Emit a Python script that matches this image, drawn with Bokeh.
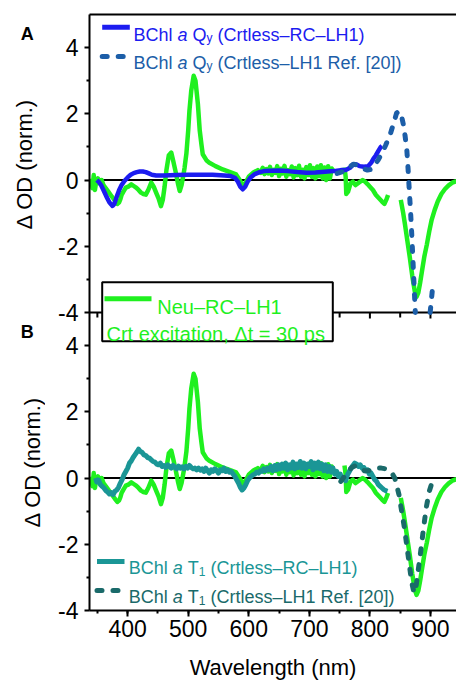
import math
from bokeh.plotting import figure
from bokeh.layouts import row
from bokeh.models import (Range1d, LinearAxis, FixedTicker, SingleIntervalTicker,
                          Span, Label)
from bokeh.core.properties import value
from bokeh.embed import file_html
from bokeh.resources import INLINE

NaN = float("nan")

# ---------------- data ----------------
# Neu-RC-LH1, Crt excitation, dt = 30 ps (drawn in both panels)
neu_wl = [340, 342, 344, 346, 348, 351, 354, 357, 360, 364, 368, 372, 376, 380, 383, 386, 388, 390,
          393, 397, 401, 406, 410, 414, 418, 422, 426, 430, 434, 439, 443, 447, 451, 455, 458, 461,
          464, 468, 472, 475, 479, 483, 486, 489, 492, 494, 497, 500, 502, 505, 509, 512, 516, 519,
          522, 524, 530, 535, 545, 557, 568, 579, 585, 590, 594, 600, 607, 615,
          620, 623, 626, 629, 632, 635, 638, 641, 644, 647, 650, 653, 656, 659, 662, 665, 668, 671,
          674, 677, 680, 683, 686, 689, 692, 695, 698, 701, 704, 707, 710, 713, 716, 719, 722, 725,
          728, 731, 734, 737, 739, NaN,
          758, 760, 761, 764, 768, 772, 776, 780, 784, 788, 792, 796, 800, 805, 810, 815, 820, 824,
          827, 830, NaN,
          851, 855, 858, 862, 866, 870, 874, 877, 880, 883, 886, 890, 894, 898, 902, 907, 912, 918,
          924, 930, 936, 943]
neu_od = [0.05, -0.25, 0.15, -0.3, -0.05, 0.05, -0.1, 0.0, -0.15, -0.25, -0.35, -0.45, -0.55, -0.65, -0.72, -0.67, -0.58, -0.45,
          -0.35, -0.23, -0.2, -0.13, -0.18, -0.23, -0.3, -0.38, -0.42, -0.44, -0.3, -0.08, -0.2, -0.38, -0.55, -0.79, -0.6, -0.2,
          0.3, 0.75, 0.83, 0.6, 0.27, -0.1, -0.33, -0.15, 0.15, 0.37, 0.8, 1.5, 2.09, 2.7, 3.15, 3.0, 2.29, 1.5,
          1.05, 0.78, 0.6, 0.52, 0.42, 0.32, 0.25, 0.17, 0.0, -0.18, -0.1, 0.1, 0.22, 0.3,
          0.22, 0.37, 0.18, 0.33, 0.2, 0.4, 0.15, 0.31, 0.22, 0.42, 0.12, 0.34, 0.2, 0.43, 0.1, 0.3, 0.18, 0.41,
          0.08, 0.36, 0.15, 0.43, 0.1, 0.31, 0.05, 0.39, 0.15, 0.45, 0.1, 0.36, 0.05, 0.41, 0.12, 0.45, 0.05, 0.38,
          0.0, 0.42, 0.05, 0.35, 0.3, NaN,
          0.38, 0.1, -0.42, -0.35, -0.1, -0.05, -0.15, -0.1, -0.05, 0.0, -0.05, -0.12, -0.2, -0.3, -0.45, -0.55, -0.65, -0.72,
          -0.6, -0.45, NaN,
          -0.6, -1.0, -1.35, -1.85, -2.35, -2.9, -3.35, -3.53, -3.4, -3.1, -2.75, -2.3, -1.95, -1.55, -1.2, -0.9, -0.65, -0.42,
          -0.27, -0.16, -0.08, -0.03]

# BChl a Qy (Crtless-RC-LH1)  - panel A
qy_rc_wl = [349, 352, 356, 360, 365, 370, 375, 378, 382, 386, 390, 395, 400, 405, 410, 415, 420, 425,
            430, 435, 440, 447, 460, 480, 500, 520, 540, 560, 570, 577, 582, 586, 590, 594, 598, 603,
            610, 618, 625, 635, 650, 665, 680, 695, 710, 725, 740, 752, 760, 767, 773, 778, 783, 790,
            797, 802, 806, 810, 814, 818, 820]
qy_rc_od = [0.0, -0.05, -0.15, -0.3, -0.5, -0.68, -0.78, -0.72, -0.5, -0.3, -0.15, -0.02, 0.08, 0.16, 0.21, 0.24, 0.26, 0.26,
            0.24, 0.2, 0.16, 0.14, 0.14, 0.15, 0.16, 0.16, 0.16, 0.14, 0.12, 0.07, -0.05, -0.2, -0.28, -0.2, -0.05, 0.08,
            0.18, 0.24, 0.27, 0.28, 0.29, 0.27, 0.24, 0.22, 0.23, 0.25, 0.27, 0.3, 0.3, 0.37, 0.48, 0.47, 0.42, 0.4,
            0.42, 0.52, 0.65, 0.75, 0.88, 1.0, 1.03]

# BChl a Qy (Crtless-LH1, Ref. [20])  - panel A (minimum runs off the axis)
qy_ref_wl = [746, 755, 765, 773, 780, 788, 796, 802, 808, 814, 820, 826, 833, 839, 844, 848, 852, 855,
             858, 861, 863, 865, 867, 869, 871, 873, 875, NaN, 899.5, 903]
qy_ref_od = [0.2, 0.25, 0.38, 0.48, 0.45, 0.35, 0.3, 0.32, 0.45, 0.62, 0.82, 1.05, 1.35, 1.7, 2.02, 2.08, 1.95, 1.7,
             1.35, 0.9, 0.35, -0.3, -0.9, -1.6, -2.4, -3.2, -4.0, NaN, -4.0, -3.35]

# BChl a T1 (Crtless-RC-LH1)  - panel B
t1_rc_wl = [347, 349, 352, 355, 358, 361, 364, 367, 370, 373, 376, 379, 382, 385, 388, 391, 394, 397,
            400, 403, 406, 409, 412, 415, 418, 421, 424, 427, 430, 433, 436, 439, 442, 445, 448, 451,
            454, 457, 460, 463, 466, 469, 472, 475, 478, 481, 484, 487, 490, 493, 496, 499, 502, 505,
            508, 511, 514, 517, 520, 523, 526, 529, 532, 535, 538, 541, 544, 547, 550, 553, 556, 559,
            562, 565, 568, 571, 574, 577, 580, 583, 586, 589, 592, 595, 598, 601, 604, 607, 610, 613,
            616, 619, 622, 625, 628, 631, 634, 637, 640, 643, 646, 649, 652, 655, 658, 661, 664, 667,
            670, 673, 676, 679, 682, 685, 688, 691, 694, 697, 700, 703, 706, 709, 712, 715, 718, 721,
            724, 727, 730, 733, 736, 739, 742, 745, 748, 751, 754, 757, 760, 763, 766, 769, 772, 775,
            778, 781, 784, 787, 790, 793, 796, 799, 802, 805, 808, 811, 814, 817, 820, 823, 826, 829]
t1_rc_od = [0.0, -0.12, -0.06, -0.2, -0.25, -0.3, -0.38, -0.42, -0.48, -0.44, -0.5, -0.4, -0.36, -0.28, -0.15, -0.04, 0.1, 0.2,
            0.3, 0.45, 0.52, 0.62, 0.7, 0.78, 0.87, 0.8, 0.77, 0.7, 0.68, 0.62, 0.6, 0.55, 0.5, 0.48, 0.42, 0.4,
            0.45, 0.35, 0.38, 0.32, 0.4, 0.35, 0.3, 0.38, 0.32, 0.28, 0.36, 0.3, 0.34, 0.28, 0.35, 0.3, 0.38, 0.32,
            0.28, 0.3, 0.25, 0.3, 0.24, 0.28, 0.2, 0.3, 0.22, 0.15, 0.25, 0.2, 0.28, 0.22, 0.15, 0.25, 0.22, 0.3,
            0.2, 0.25, 0.18, 0.2, 0.12, 0.05, -0.05, -0.15, -0.28, -0.36, -0.3, -0.2, -0.08, 0.0, 0.05, 0.1, 0.12, 0.18,
            0.15, 0.22, 0.2, 0.28, 0.22, 0.3, 0.25, 0.35, 0.22, 0.38, 0.25, 0.4, 0.28, 0.42, 0.3, 0.45, 0.25, 0.4,
            0.3, 0.48, 0.28, 0.42, 0.32, 0.5, 0.3, 0.45, 0.28, 0.42, 0.35, 0.5, 0.25, 0.45, 0.3, 0.48, 0.28, 0.42,
            0.22, 0.4, 0.2, 0.35, 0.18, 0.3, 0.12, 0.2, 0.05, 0.12, -0.05, 0.02, -0.08, 0.1, 0.2, 0.3, 0.38, 0.45,
            0.42, 0.35, 0.4, 0.3, 0.32, 0.22, 0.25, 0.12, 0.15, 0.05, -0.05, -0.1, -0.2, -0.25, -0.3, -0.35, -0.38, -0.4]

# BChl a T1 (Crtless-LH1, Ref. [20])  - panel B
t1_ref_wl = [752, 758, 764, 770, 777, 784, 791, 798, 805, 812, 819, 826, 833, 838, 841, 844, 848, 852,
             857, 861, 865, 869, 873, 876, 879, 884, 888, 893, 898, 904]
t1_ref_od = [-0.1, 0.05, 0.2, 0.32, 0.38, 0.3, 0.22, 0.22, 0.28, 0.3, 0.3, 0.28, 0.22, 0.1, 0.0, -0.2, -0.5, -0.95,
             -1.5, -2.05, -2.6, -3.15, -3.47, -3.3, -2.9, -2.2, -1.6, -0.9, -0.4, -0.05]

x_major = [400, 500, 600, 700, 800, 900]
y_major = [-4, -2, 0, 2, 4]
y_minor = [-3, -1, 1, 3]

# ---------------- styles ----------------
GREEN = "#1ff01f"
BLUE = "#1c1cf0"
BLUE_D = "#1c5ea8"
TEAL = "#1a9696"
TEAL_D = "#1a6a6a"
FONT = "Liberation Sans"

W, H = 456, 684
LW = 45                      # width of the strip that holds the y titles / panel letters
FL, FR, FT, FB = 89, 456, 14, 610
X0, X1 = 337, 943
YA = (-13, 5)      # panel A scale (upper half shows -4..5)
YB = (-4, 14)      # panel B scale (lower half shows -4..5)
B_OFF = YB[0] - YA[0]


def px2x(px):
    return X0 + (px - FL) * (X1 - X0) / (FR - FL)


def px2y(py):
    return YA[1] - (py - FT) * (YA[1] - YA[0]) / (FB - FT)


PPU = (FB - FT) / (YA[1] - YA[0])

p = figure(width=W - LW, height=H, x_range=Range1d(X0, X1), y_range=Range1d(*YA),
           x_axis_type=None, y_axis_type=None, output_backend="svg",
           toolbar_location=None, min_border_left=FL - LW, min_border_right=W - FR,
           min_border_top=FT, min_border_bottom=H - FB)
p.extra_y_ranges = {"b": Range1d(*YB)}
p.outline_line_color = None
p.background_fill_color = "white"
p.border_fill_color = "white"

# ---- axes ----
xa = LinearAxis(ticker=SingleIntervalTicker(interval=100, num_minor_ticks=2),
                axis_line_width=2, major_tick_line_width=2, minor_tick_line_width=2,
                major_tick_out=6, major_tick_in=0, minor_tick_out=3, minor_tick_in=0,
                major_label_text_font=FONT, major_label_text_font_size="23px",
                major_label_text_color="black", major_label_standoff=3,
                axis_label="Wavelength (nm)", axis_label_text_font=FONT,
                axis_label_text_font_size="22px", axis_label_text_font_style="normal",
                axis_label_text_color="black", axis_label_standoff=15)
p.add_layout(xa, "below")

ticks = list(y_major) + [v - B_OFF for v in y_major]
minors = list(y_minor) + [v - B_OFF for v in y_minor]
overrides = {v: str(v) for v in y_major}
overrides.update({v - B_OFF: str(v) for v in y_major})
ya = LinearAxis(ticker=FixedTicker(ticks=ticks, minor_ticks=minors),
                major_label_overrides=overrides,
                axis_line_width=2, major_tick_line_width=2, minor_tick_line_width=2,
                major_tick_out=5, major_tick_in=0, minor_tick_out=3, minor_tick_in=0,
                major_label_text_font=FONT, major_label_text_font_size="23px",
                major_label_text_color="black", major_label_standoff=6)
p.add_layout(ya, "left")

top = LinearAxis(ticker=FixedTicker(ticks=[]), axis_line_width=2,
                 major_tick_out=0, major_tick_in=0, minor_tick_out=0, minor_tick_in=0,
                 major_label_text_font_size="0px", major_label_standoff=0)
p.add_layout(top, "above")

# zero lines and panel separator
p.add_layout(Span(location=0, dimension="width", line_color="black", line_width=2, level="underlay"))
p.add_layout(Span(location=0, dimension="width", y_range_name="b", line_color="black",
                  line_width=2, level="underlay"))
p.add_layout(Span(location=y_major[0], dimension="width", line_color="black", line_width=2,
                  level="underlay"))
mid_ticks = [v for v in range(350, 950, 50) if X0 <= v <= X1]
mid_len = [(6 if v % 100 == 0 else 5) / PPU for v in mid_ticks]
p.segment(x0=mid_ticks, x1=mid_ticks, y0=[y_major[0]] * len(mid_ticks),
          y1=[y_major[0] - l for l in mid_len], line_color="black", line_width=2)

# ---- panel A curves ----
p.line(neu_wl, neu_od, line_color=GREEN, line_width=4.5, line_join="round")
p.line(qy_rc_wl, qy_rc_od, line_color=BLUE, line_width=4.5, line_join="round")
p.line(qy_ref_wl, qy_ref_od, line_color=BLUE_D, line_width=5, line_dash="5 11",
       line_cap="round", line_join="round")

# ---- panel B curves ----
p.line(neu_wl, neu_od, y_range_name="b", line_color=GREEN, line_width=4.5, line_join="round")
p.line(t1_rc_wl, t1_rc_od, y_range_name="b", line_color=TEAL, line_width=5, line_join="round")
p.line(t1_ref_wl, t1_ref_od, y_range_name="b", line_color=TEAL_D, line_width=5, line_dash="5 11",
       line_cap="round", line_join="round")

# ---- boxed legend (Neu-RC-LH1) ----
p.quad(left=px2x(101.7), right=px2x(332.3), top=px2y(281.7), bottom=px2y(340.7),
       fill_color="white", line_color="black", line_width=2)

# ---- text helpers ----
AW = {' ': 278, '(': 333, ')': 333, '[': 278, ']': 278, '.': 278, ',': 278, '–': 556, '=': 584,
      'Δ': 668, '0': 556, '1': 556, '2': 556, '3': 556, '4': 556,
      'B': 667, 'C': 722, 'H': 722, 'L': 556, 'N': 722, 'Q': 778, 'R': 722, 'T': 611,
      'a': 556, 'c': 500, 'e': 556, 'h': 556, 'i': 222, 'l': 222, 'n': 556, 'o': 556,
      'p': 556, 'r': 333, 's': 500, 't': 278, 'u': 556, 'x': 500, 'y': 500}


def tw(s, fs):
    return sum(AW.get(c, 556) for c in s) * fs / 1000.0


def rich(x_px, base_py, pieces, color):
    x = x_px
    for txt, fs, style, dy in pieces:
        lead = len(txt) - len(txt.lstrip(" "))
        x += tw(" " * lead, fs)
        body = txt.strip(" ")
        p.add_layout(Label(x=px2x(x), y=px2y(base_py + dy), text=body, text_font=FONT,
                           text_font_size=f"{fs}px", text_font_style=style,
                           text_color=color, text_baseline="alphabetic", text_align="left"))
        x += tw(txt.lstrip(" "), fs)


def sample(x0, x1, py, color, dashed=False):
    kw = dict(line_dash="5 11", line_cap="round") if dashed else {}
    p.line([px2x(x0), px2x(x1)], [px2y(py), px2y(py)], line_color=color, line_width=5, **kw)


# panel A legend
sample(101.7, 129.3, 26.7, BLUE)
rich(133, 34, [("BChl ", 18, "normal", 0), ("a", 18, "italic", 0), (" Q", 18, "normal", 0),
               ("y", 12, "normal", 3), (" (Crtless–RC–LH1)", 18, "normal", 0)], BLUE)
sample(101.7, 129.3, 56, BLUE_D, dashed=True)
rich(133, 62.2, [("BChl ", 18, "normal", 0), ("a", 18, "italic", 0), (" Q", 18, "normal", 0),
                 ("y", 12, "normal", 3), (" (Crtless–LH1 Ref. [20])", 18, "normal", 0)], BLUE_D)

# boxed legend content
sample(104, 151, 298.3, GREEN)
rich(156.7, 306, [("Neu–RC–LH1", 20, "normal", 0)], GREEN)
rich(106, 333.3, [("Crt excitation, Δt = 30 ps", 20, "normal", 0)], GREEN)

# panel B legend
sample(96.5, 124, 561, TEAL)
rich(128.3, 567.5, [("BChl ", 18, "normal", 0), ("a", 18, "italic", 0), (" T", 18, "normal", 0),
                    ("1", 12, "normal", 3), (" (Crtless–RC–LH1)", 18, "normal", 0)], TEAL)
sample(96.5, 124, 590, TEAL_D, dashed=True)
rich(128.3, 596.5, [("BChl ", 18, "normal", 0), ("a", 18, "italic", 0), (" T", 18, "normal", 0),
                    ("1", 12, "normal", 3), (" (Crtless–LH1 Ref. [20])", 18, "normal", 0)], TEAL_D)

# ---- left strip: y titles and panel letters (its frame matches the main frame; y in px, down) ----
lf = figure(width=LW, height=H, x_range=Range1d(0, LW), y_range=Range1d(FB, FT),
            x_axis_type=None, y_axis_type=None, output_backend="svg", toolbar_location=None,
            min_border_left=0, min_border_right=0, min_border_top=FT,
            min_border_bottom=H - FB)
lf.outline_line_color = None
lf.background_fill_color = "white"
lf.border_fill_color = "white"
lf.text(x=[23.5, 31.5], y=[163.5, 461.5], text=["Δ OD (norm.)", "Δ OD (norm.)"],
        angle=math.pi / 2, text_font=value(FONT), text_font_size=value("22px"),
        text_color="black", text_align="center", text_baseline="middle")
lf.text(x=[26.7, 26.7], y=[33.2, 331.5], text=["A", "B"], text_font=value(FONT),
        text_font_size=value("18px"), text_font_style="bold", text_color="black",
        text_align="center", text_baseline="alphabetic")

layout = row(lf, p, spacing=0)
open("out.html", "w").write(file_html(layout, INLINE))
